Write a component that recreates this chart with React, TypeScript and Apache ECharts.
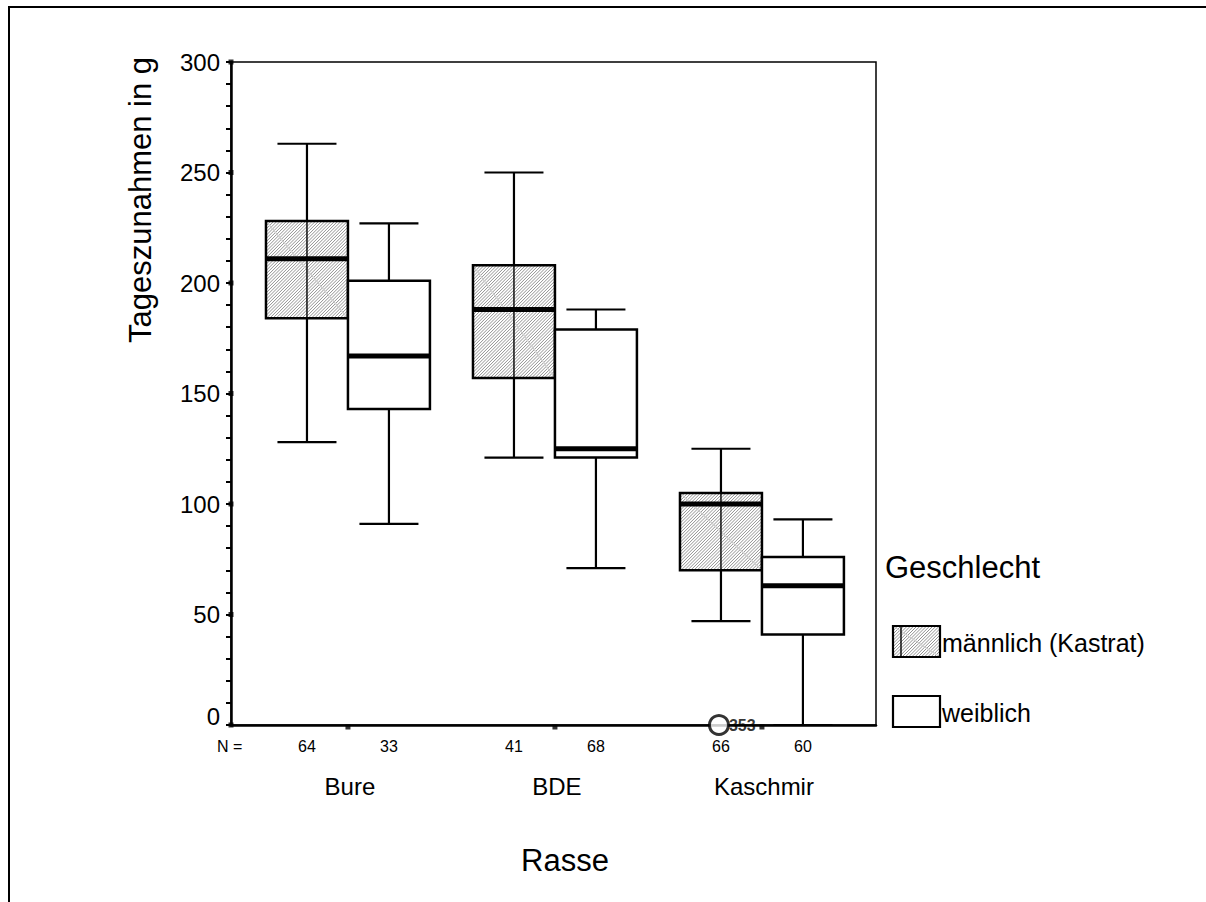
import React, { useEffect, useRef } from "react";
import * as echarts from "echarts";

// ---- data ----
const categories = ["Bure", "BDE", "Kaschmir"];
const groups = ["männlich (Kastrat)", "weiblich"];
// [min, q1, median, q3, max]
const maleStats = [
  [128, 184, 211, 228, 263],
  [121, 157, 188, 208, 250],
  [47, 70, 100, 105, 125],
];
const femaleStats = [
  [91, 143, 167, 201, 227],
  [71, 121, 125, 179, 188],
  [0, 41, 63, 76, 93],
];
const maleN = [64, 41, 66];
const femaleN = [33, 68, 60];
// outliers: [categoryIndex, groupIndex, value, caseLabel]
const outliers: [number, number, number, string][] = [[2, 0, 0, "353"]];
const yTicks = [0, 50, 100, 150, 200, 250, 300];

// ---- layout/style constants ----
const FONT = "Liberation Sans, Arial, Helvetica, sans-serif";
const X_MIN = -0.565;
const X_MAX = 2.551;
const BOX_W = 0.396;

function hatch(x0: number, y0: number, x1: number, y1: number, step: number) {
  const out: number[][] = [];
  const cStart = x0 + y0;
  const cEnd = x1 + y1;
  for (let c = cStart + step / 2; c < cEnd; c += step) {
    const xa = Math.max(x0, c - y1);
    const xb = Math.min(x1, c - y0);
    if (xb - xa < 0.3) continue;
    out.push([xa, c - xa, xb, c - xb]);
  }
  return out;
}

function hatchElements(x0: number, y0: number, x1: number, y1: number) {
  const els: any[] = hatch(x0, y0, x1, y1, 3.2).map((s) => ({
    type: "line",
    shape: { x1: s[0], y1: s[1], x2: s[2], y2: s[3] },
    style: { stroke: "#6e6e6e", lineWidth: 0.75 },
    silent: true,
  }));
  els.push({
    type: "line",
    shape: { x1: x0, y1: y0, x2: x1, y2: y1 },
    style: { stroke: "#cfcfcf", lineWidth: 1.2 },
    silent: true,
  });
  return els;
}

const boxData: number[][] = [];
categories.forEach((_, i) => {
  boxData.push([i, 0, ...maleStats[i]]);
  boxData.push([i, 1, ...femaleStats[i]]);
});

function renderBox(params: any, api: any) {
  const cat = api.value(0);
  const g = api.value(1);
  const xc = cat + (g === 0 ? -0.5 : 0.5) * BOX_W;
  const vMin = api.value(2);
  const q1 = api.value(3);
  const med = api.value(4);
  const q3 = api.value(5);
  const vMax = api.value(6);
  const w = api.size([BOX_W, 0])[0];
  const cx = api.coord([xc, med])[0];
  const yMin = api.coord([xc, vMin])[1];
  const yQ1 = api.coord([xc, q1])[1];
  const yMed = api.coord([xc, med])[1];
  const yQ3 = api.coord([xc, q3])[1];
  const yMax = api.coord([xc, vMax])[1];
  const x0 = cx - w / 2;
  const x1 = cx + w / 2;
  const capW = w * 0.72;
  const children: any[] = [];
  const ln = (a: number, b: number, c: number, d: number, lw: number) => ({
    type: "line",
    shape: { x1: a, y1: b, x2: c, y2: d },
    style: { stroke: "#000", lineWidth: lw },
  });
  children.push(ln(cx, yMax, cx, yQ3, 2.2));
  children.push(ln(cx, yQ1, cx, yMin, 2.2));
  children.push(ln(cx - capW / 2, yMax, cx + capW / 2, yMax, 2.2));
  children.push(ln(cx - capW / 2, yMin, cx + capW / 2, yMin, 2.2));
  children.push({
    type: "rect",
    shape: { x: x0, y: yQ3, width: w, height: yQ1 - yQ3 },
    style: { fill: "#fff", stroke: "none" },
  });
  if (g === 0) {
    children.push(...hatchElements(x0, yQ3, x1, yQ1));
    children.push(ln(cx, yQ3, cx, yQ1, 1.4));
  }
  children.push({
    type: "rect",
    shape: { x: x0, y: yQ3, width: w, height: yQ1 - yQ3 },
    style: { fill: "none", stroke: "#000", lineWidth: 2.5 },
  });
  children.push(ln(x0, yMed, x1, yMed, 5));
  return { type: "group", children };
}

function renderLabels(params: any, api: any) {
  const i = api.value(0);
  const base = api.coord([i, 0]);
  const off = api.size([BOX_W / 2, 0])[0];
  const txt = (x: number, y: number, text: string, size: number) => ({
    type: "text",
    x,
    y,
    style: {
      text,
      fill: "#000",
      fontSize: size,
      fontFamily: FONT,
      align: "center",
      verticalAlign: "middle",
    },
  });
  return {
    type: "group",
    children: [
      txt(base[0] - off, base[1] + 21, String(maleN[i]), 16),
      txt(base[0] + off, base[1] + 21, String(femaleN[i]), 16),
      txt(base[0] + 2, base[1] + 61, categories[i], 24),
    ],
  };
}

function legendItem(x: number, y: number, hatched: boolean, label: string) {
  const w = 47;
  const h = 31;
  const children: any[] = [
    { type: "rect", shape: { x, y, width: w, height: h }, style: { fill: "#fff" } },
  ];
  if (hatched) {
    children.push(...hatchElements(x, y, x + w, y + h));
    children.push({
      type: "line",
      shape: { x1: x + 8, y1: y, x2: x + 8, y2: y + h },
      style: { stroke: "#000", lineWidth: 1.4 },
    });
  }
  children.push({
    type: "rect",
    shape: { x, y, width: w, height: h },
    style: { fill: "none", stroke: "#000", lineWidth: 2.2 },
  });
  children.push({
    type: "text",
    x: x + w + 2,
    y: y + h / 2 + 1,
    style: {
      text: label,
      fill: "#000",
      fontSize: 25,
      fontFamily: FONT,
      align: "left",
      verticalAlign: "middle",
    },
  });
  return { type: "group", children };
}

export default function App() {
  const ref = useRef<HTMLDivElement>(null);
  useEffect(() => {
    if (!ref.current) return;
    const chart = echarts.init(ref.current, undefined, { renderer: "svg" });
    const option: any = {
      animation: false,
      backgroundColor: "#fff",
      textStyle: { fontFamily: FONT },
      grid: {
        left: 231,
        top: 62,
        width: 645,
        height: 663,
        show: true,
        borderColor: "#000",
        borderWidth: 1.5,
        backgroundColor: "transparent",
      },
      xAxis: {
        type: "value",
        min: X_MIN,
        max: X_MAX,
        axisLine: { show: true, onZero: false, lineStyle: { color: "#000", width: 2.5 } },
        axisTick: { show: false },
        axisLabel: { show: false },
        splitLine: { show: false },
      },
      yAxis: {
        type: "value",
        min: 0,
        max: 300,
        interval: 50,
        axisLine: { show: true, onZero: false, lineStyle: { color: "#000", width: 2.5 } },
        axisTick: { show: true, length: 5, lineStyle: { color: "#000", width: 2 } },
        minorTick: { show: true, splitNumber: 5, length: 5, lineStyle: { color: "#000", width: 2 } },
        axisLabel: {
          fontSize: 24,
          color: "#000",
          fontFamily: FONT,
          margin: 11,
          formatter: (v: number) => (v === 0 ? "{z|0}" : String(v)),
          rich: { z: { fontSize: 24, fontFamily: FONT, color: "#000", padding: [0, 0, 18, 0] } },
        },
        splitLine: { show: false },
      },
      series: [
        {
          type: "custom",
          name: "boxes",
          renderItem: renderBox,
          data: boxData,
          encode: { x: 0, y: [2, 3, 4, 5, 6] },
          clip: false,
          z: 3,
        },
        {
          type: "scatter",
          name: "outliers",
          data: outliers.map((o) => [o[0] + (o[1] === 0 ? -0.5 : 0.5) * BOX_W, o[2], o[3]]),
          symbol: "circle",
          symbolSize: 19,
          symbolOffset: [-2, 0],
          itemStyle: { color: "#fff", borderColor: "#000", borderWidth: 3 },
          label: {
            show: true,
            position: "right",
            distance: -1,
            formatter: (p: any) => p.data[2],
            color: "#000",
            fontSize: 16,
            fontWeight: "bold",
            fontFamily: FONT,
          },
          clip: false,
          z: 5,
        },
        {
          type: "scatter",
          name: "yTickMarks",
          data: yTicks.map((v) => [X_MIN, v]),
          symbol: "rect",
          symbolSize: 5,
          itemStyle: { color: "#000" },
          clip: false,
          silent: true,
          z: 6,
        },
        {
          type: "scatter",
          name: "xTickMarks",
          data: categories.map((_, i) => [i, 0]),
          symbol: "rect",
          symbolSize: 5,
          symbolOffset: [0, 2],
          itemStyle: { color: "#000" },
          clip: false,
          silent: true,
          z: 6,
        },
        {
          type: "custom",
          name: "labels",
          renderItem: renderLabels,
          data: categories.map((_, i) => [i, 0]),
          clip: false,
          silent: true,
        },
      ],
      graphic: [
        { type: "line", shape: { x1: 8, y1: 7, x2: 1206, y2: 7 }, style: { stroke: "#000", lineWidth: 2 } },
        { type: "line", shape: { x1: 9, y1: 7, x2: 9, y2: 902 }, style: { stroke: "#000", lineWidth: 2 } },
        {
          type: "text",
          x: 217,
          y: 746,
          style: { text: "N =", fill: "#000", fontSize: 16, fontFamily: FONT, align: "left", verticalAlign: "middle" },
        },
        {
          type: "text",
          x: 140,
          y: 200,
          rotation: Math.PI / 2,
          style: {
            text: "Tageszunahmen in g",
            fill: "#000",
            fontSize: 31,
            fontFamily: FONT,
            align: "center",
            verticalAlign: "middle",
          },
        },
        {
          type: "text",
          x: 565,
          y: 860,
          style: { text: "Rasse", fill: "#000", fontSize: 31, fontFamily: FONT, align: "center", verticalAlign: "middle" },
        },
        {
          type: "text",
          x: 885,
          y: 567,
          style: { text: "Geschlecht", fill: "#000", fontSize: 31, fontFamily: FONT, align: "left", verticalAlign: "middle" },
        },
        legendItem(893, 626, true, groups[0]),
        legendItem(893, 696, false, groups[1]),
      ],
    };
    chart.setOption(option);
    return () => chart.dispose();
  }, []);
  return (
    <div
      ref={ref}
      style={{ position: "fixed", left: 0, top: 0, width: 1206, height: 902, background: "#fff" }}
    />
  );
}
